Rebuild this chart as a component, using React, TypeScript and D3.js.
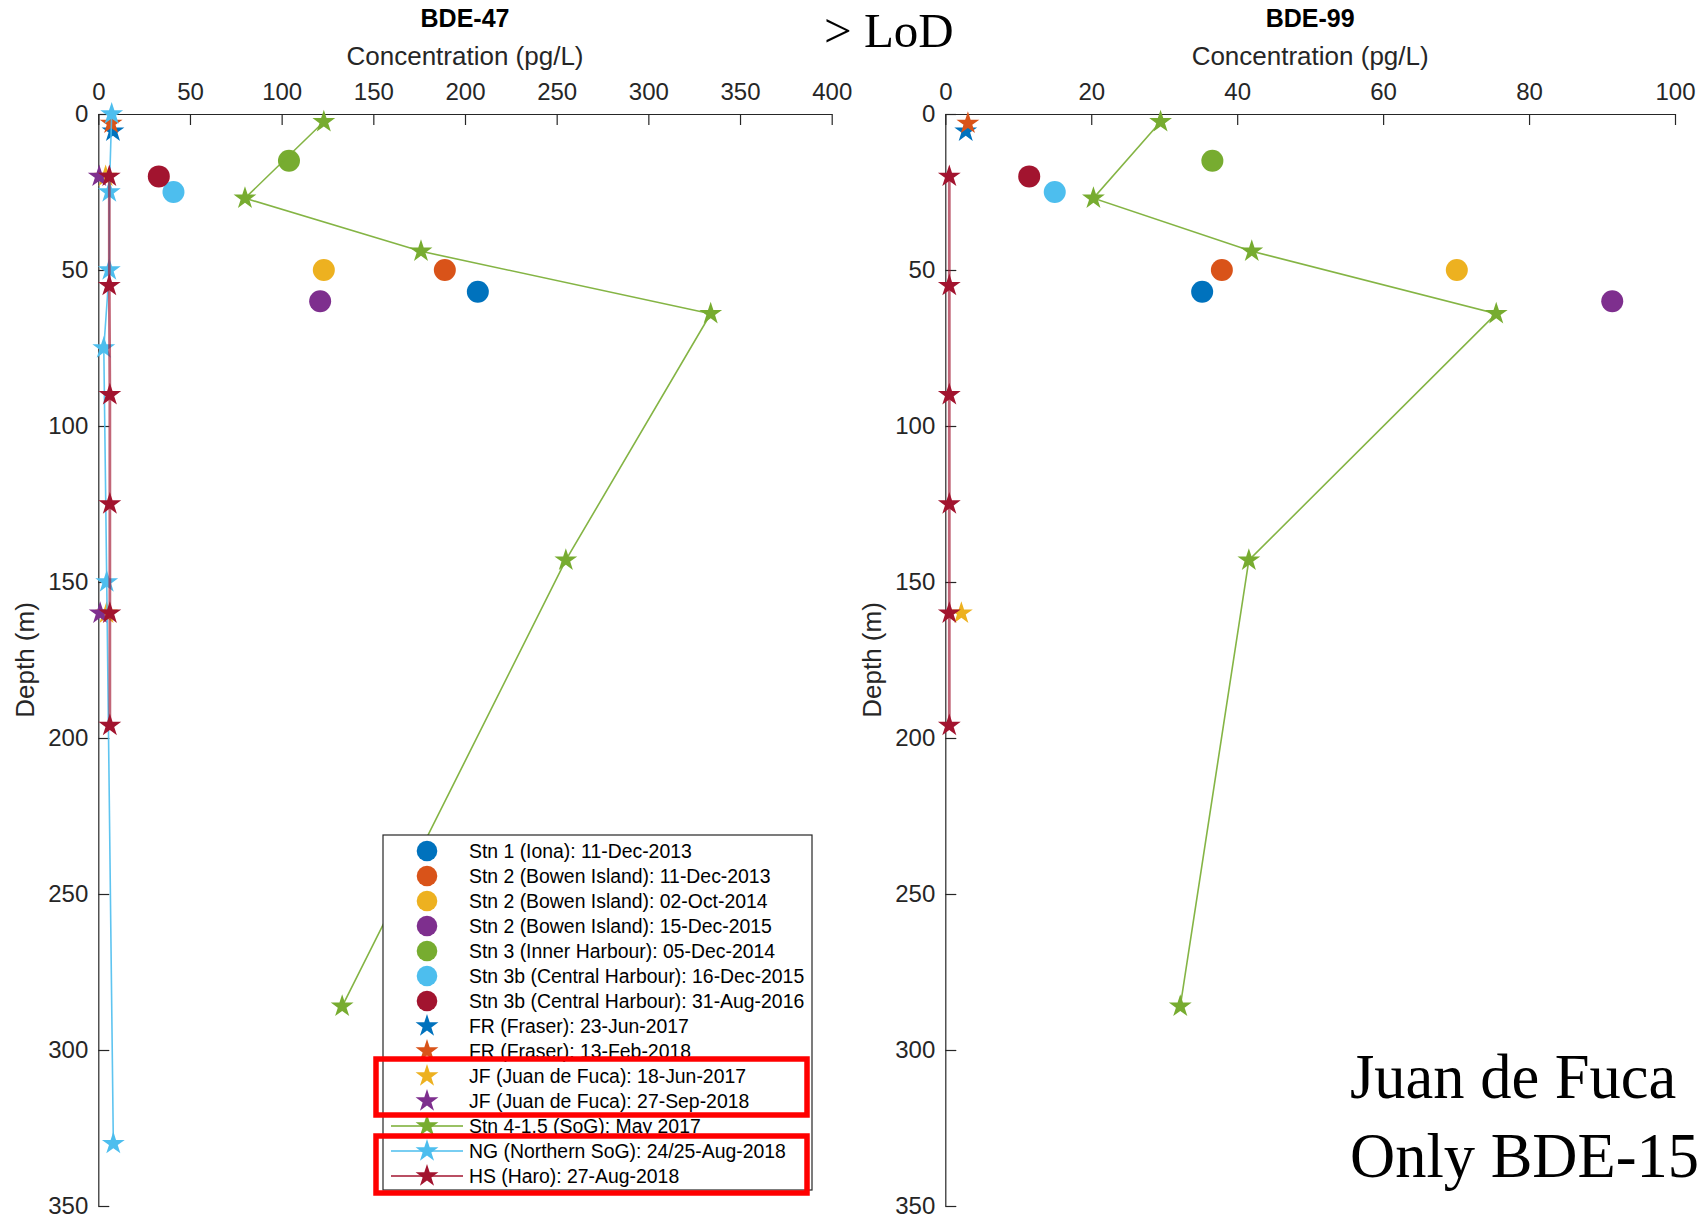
import { useEffect, useRef } from 'react';
import * as d3 from 'd3';

const W = 1703, H = 1220;
const SANS = '"Liberation Sans", Arial, Helvetica, sans-serif';
const SERIF = '"Liberation Serif", "Times New Roman", serif';
const INK = '#262626';

// axes
const depthTicks = [0, 50, 100, 150, 200, 250, 300, 350];
const bde47Ticks = [0, 50, 100, 150, 200, 250, 300, 350, 400];
const bde99Ticks = [0, 20, 40, 60, 80, 100];

// discrete stations (one sample each): Stn 1 .. Stn 3b
const circleLabels = [
  'Stn 1 (Iona): 11-Dec-2013',
  'Stn 2 (Bowen Island): 11-Dec-2013',
  'Stn 2 (Bowen Island): 02-Oct-2014',
  'Stn 2 (Bowen Island): 15-Dec-2015',
  'Stn 3 (Inner Harbour): 05-Dec-2014',
  'Stn 3b (Central Harbour): 16-Dec-2015',
  'Stn 3b (Central Harbour): 31-Aug-2016',
];
const circleDepth = [57, 50, 50, 60, 15, 25, 20];
const circleBde47 = [207, 189, 123, 121, 104, 41, 33];
const circleBde99 = [35.2, 37.9, 70.1, 91.4, 36.6, 15.0, 11.5];

// profile stations
const frJunDepth = [5.5];
const frJunBde47 = [8];
const frJunBde99 = [2.8];

const frFebDepth = [3];
const frFebBde47 = [7];
const frFebBde99 = [3.1];

const jfJunDepth47 = [20, 160];
const jfJunBde47 = [4, 4.5];
const jfJunDepth99 = [160];
const jfJunBde99 = [2.2];

const jfSepDepth47 = [20, 160];
const jfSepBde47 = [0.5, 1];

const sogDepth = [2.5, 27, 44, 64, 143, 286];
const sogBde47 = [123, 80, 176, 334, 255, 133];
const sogBde99 = [29.5, 20.3, 42, 75.5, 41.6, 32.2];

const ngDepth = [0, 25, 50, 75, 150, 330];
const ngBde47 = [7.3, 6, 6, 3, 4.6, 8.2];

const hsDepth = [20, 55, 90, 125, 160, 196];
const hsBde47 = [6, 6, 6.3, 6.3, 6.3, 6.3];
const hsBde99 = [0.55, 0.55, 0.55, 0.55, 0.55, 0.55];

const starLabels = [
  'FR (Fraser): 23-Jun-2017',
  'FR (Fraser): 13-Feb-2018',
  'JF (Juan de Fuca): 18-Jun-2017',
  'JF (Juan de Fuca): 27-Sep-2018',
  'Stn 4-1.5 (SoG): May 2017',
  'NG (Northern SoG): 24/25-Aug-2018',
  'HS (Haro): 27-Aug-2018',
];

const circleColors = ['#0072BD', '#D95319', '#EDB120', '#7E2F8E', '#77AC30', '#4DBEEE', '#A2142F'];
const starColors = ['#0072BD', '#D95319', '#EDB120', '#7E2F8E', '#77AC30', '#4DBEEE', '#A2142F'];
const starHasLine = [false, false, false, false, true, true, true];

const zip = (d: number[], v: number[]) => d.map((dd, i) => ({ depth: dd, value: v[i] }));

export default function App() {
  const svgRef = useRef<SVGSVGElement | null>(null);

  useEffect(() => {
    const svg = d3.select(svgRef.current);
    svg.selectAll('*').remove();

    const y = d3.scaleLinear().domain([0, 350]).range([114, 1206]);
    const star = d3.symbol().type(d3.symbolStar).size(162);
    const R = 11;

    const panels = [
      {
        title: 'BDE-47',
        x: d3.scaleLinear().domain([0, 400]).range([98.3, 831.7]),
        ticks: bde47Ticks,
        circles: circleBde47,
        stars: [
          zip(frJunDepth, frJunBde47),
          zip(frFebDepth, frFebBde47),
          zip(jfJunDepth47, jfJunBde47),
          zip(jfSepDepth47, jfSepBde47),
          zip(sogDepth, sogBde47),
          zip(ngDepth, ngBde47),
          zip(hsDepth, hsBde47),
        ],
      },
      {
        title: 'BDE-99',
        x: d3.scaleLinear().domain([0, 100]).range([945.3, 1675]),
        ticks: bde99Ticks,
        circles: circleBde99,
        stars: [
          zip(frJunDepth, frJunBde99),
          zip(frFebDepth, frFebBde99),
          zip(jfJunDepth99, jfJunBde99),
          [],
          zip(sogDepth, sogBde99),
          [],
          zip(hsDepth, hsBde99),
        ],
      },
    ];

    panels.forEach((p) => {
      const g = svg.append('g');
      const [xa, xb] = p.x.range();
      const cx = (xa + xb) / 2;

      // axes
      const top = g
        .append('g')
        .attr('transform', `translate(0,${y(0)})`)
        .call(d3.axisTop(p.x).tickValues(p.ticks).tickSizeInner(-11).tickSizeOuter(0).tickPadding(14));
      const left = g
        .append('g')
        .attr('transform', `translate(${xa},0)`)
        .call(d3.axisLeft(y).tickValues(depthTicks).tickSizeInner(-11).tickSizeOuter(0).tickPadding(10));
      [top, left].forEach((ax) => {
        ax.attr('font-family', SANS).attr('font-size', 24);
        ax.selectAll('path, line').attr('stroke', INK).attr('stroke-width', 1.2);
        ax.selectAll('text').attr('fill', INK);
      });

      g.append('text')
        .attr('x', cx)
        .attr('y', 27)
        .attr('text-anchor', 'middle')
        .attr('font-family', SANS)
        .attr('font-weight', 'bold')
        .attr('font-size', 25)
        .attr('fill', '#000')
        .text(p.title);
      g.append('text')
        .attr('x', cx)
        .attr('y', 65)
        .attr('text-anchor', 'middle')
        .attr('font-family', SANS)
        .attr('font-size', 26)
        .attr('fill', INK)
        .text('Concentration (pg/L)');
      g.append('text')
        .attr('transform', `translate(${xa - 64},${(y(0) + y(350)) / 2}) rotate(-90)`)
        .attr('text-anchor', 'middle')
        .attr('font-family', SANS)
        .attr('font-size', 26)
        .attr('fill', INK)
        .text('Depth (m)');

      // single-sample stations
      g.selectAll('.dot')
        .data(p.circles)
        .join('circle')
        .attr('cx', (v) => p.x(v))
        .attr('cy', (_, i) => y(circleDepth[i]))
        .attr('r', R)
        .attr('fill', (_, i) => circleColors[i]);

      // profile stations
      const line = d3
        .line<{ depth: number; value: number }>()
        .x((d) => p.x(d.value))
        .y((d) => y(d.depth));
      p.stars.forEach((pts, i) => {
        if (!pts.length) return;
        if (starHasLine[i]) {
          const red = i === 6;
          g.append('path')
            .attr('d', line(pts))
            .attr('fill', 'none')
            .attr('stroke', starColors[i])
            .attr('stroke-width', red ? 2.8 : 1.6)
            .attr('stroke-opacity', red ? 0.65 : 0.9);
        }
        g.selectAll(null)
          .data(pts)
          .join('path')
          .attr('d', star)
          .attr('transform', (d) => `translate(${p.x(d.value)},${y(d.depth)})`)
          .attr('fill', starColors[i]);
      });
    });

    // legend
    const labels = [...circleLabels, ...starLabels];
    const row = d3.scalePoint().domain(labels).range([851, 1176]);
    const lg = svg.append('g');
    lg.append('rect')
      .attr('x', 383)
      .attr('y', 835)
      .attr('width', 429)
      .attr('height', 355)
      .attr('fill', '#fff')
      .attr('stroke', INK)
      .attr('stroke-width', 1.2);
    labels.forEach((lab, i) => {
      const ry = row(lab) as number;
      const isCircle = i < circleLabels.length;
      const color = isCircle ? circleColors[i] : starColors[i - circleLabels.length];
      if (!isCircle && starHasLine[i - circleLabels.length]) {
        lg.append('line')
          .attr('x1', 391)
          .attr('x2', 463)
          .attr('y1', ry)
          .attr('y2', ry)
          .attr('stroke', color)
          .attr('stroke-width', 1.6);
      }
      if (isCircle) {
        lg.append('circle').attr('cx', 427).attr('cy', ry).attr('r', 10.3).attr('fill', color);
      } else {
        lg.append('path').attr('d', star).attr('transform', `translate(427,${ry})`).attr('fill', color);
      }
      lg.append('text')
        .attr('x', 469)
        .attr('y', ry)
        .attr('dy', '0.36em')
        .attr('font-family', SANS)
        .attr('font-size', 19.4)
        .attr('fill', '#000')
        .text(lab);
    });

    // highlight boxes around JF and NG/HS entries
    const boxes: [string, string, number, number][] = [
      [labels[9], labels[10], 17, 14],
      [labels[12], labels[13], 15, 17],
    ];
    boxes.forEach(([a, b, up, down]) => {
      const y0 = (row(a) as number) - up;
      const y1 = (row(b) as number) + down;
      svg.append('rect')
        .attr('x', 376)
        .attr('y', y0)
        .attr('width', 431)
        .attr('height', y1 - y0)
        .attr('fill', 'none')
        .attr('stroke', '#ff0000')
        .attr('stroke-width', 5.5);
    });

    // annotations
    svg.append('text')
      .attr('x', 824)
      .attr('y', 47)
      .attr('font-family', SERIF)
      .attr('font-size', 49)
      .attr('fill', '#000')
      .text('> LoD');
    const note = svg.append('text')
      .attr('font-family', SERIF)
      .attr('font-size', 62.5)
      .attr('fill', '#000');
    note.append('tspan').attr('x', 1350).attr('y', 1098).text('Juan de Fuca');
    note.append('tspan').attr('x', 1350).attr('y', 1177).text('Only BDE-15');
  }, []);

  return (
    <>
      <style>{'body{margin:0;}'}</style>
      <svg ref={svgRef} width={W} height={H} style={{ display: 'block', background: '#fff' }} />
    </>
  );
}
